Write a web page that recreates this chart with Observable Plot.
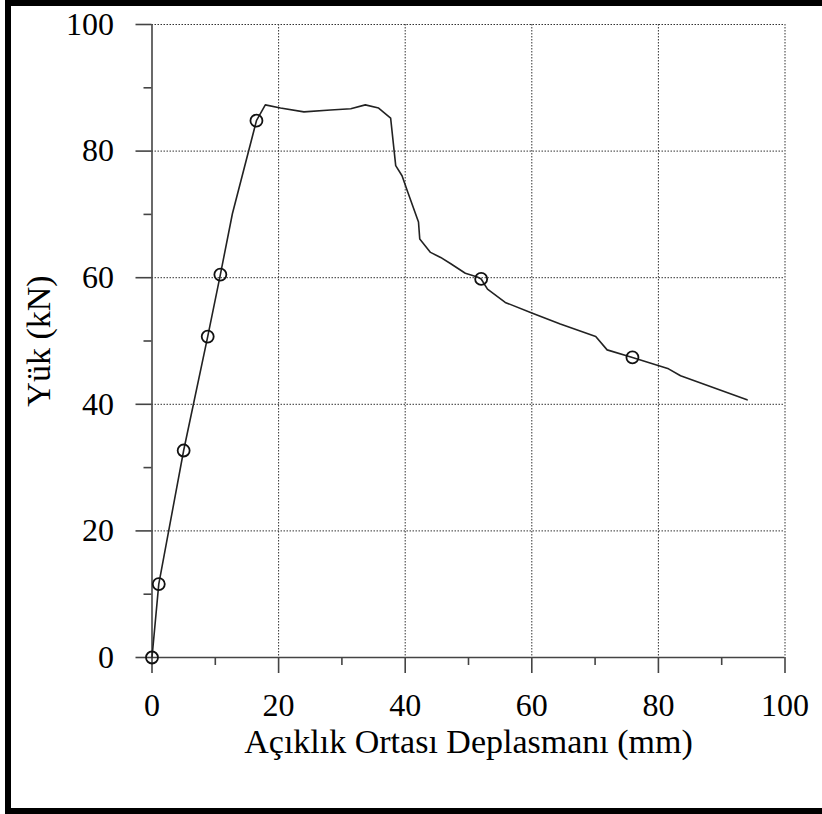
<!DOCTYPE html>
<html>
<head>
<meta charset="utf-8">
<script src="https://cdn.jsdelivr.net/npm/d3@7"></script>
<script src="https://cdn.jsdelivr.net/npm/@observablehq/plot@0.6"></script>
<style>
  html, body { margin: 0; padding: 0; background: #fff; overflow: hidden; }
  #wrap { position: relative; width: 822px; height: 814px; }
  #frame { position: absolute; left: 5px; top: 0; width: 840px; height: 814px; box-sizing: border-box; border: 6px solid #000; pointer-events: none; }
  svg { display: block; }
</style>
</head>
<body>
<div id="wrap"><div id="chart"></div><div id="frame"></div></div>
<script>
// Curve (mid-span displacement, mm) vs load (kN)
const curveX = [0, 1.07, 5.0, 8.8, 10.8, 12.7, 16.5, 17.9, 20.3, 24.0, 28.2, 31.4, 33.7, 35.8, 37.7, 38.5, 39.5, 40.3, 42.1, 42.3, 44.0, 45.6, 47.2, 49.5, 51.4, 52.0, 53.0, 55.8, 60.1, 64.5, 70.1, 71.9, 75.9, 81.6, 83.5, 94.0];
const curveY = [0, 11.6, 32.7, 50.7, 60.5, 70.1, 84.8, 87.3, 86.8, 86.2, 86.5, 86.7, 87.3, 86.8, 85.2, 77.7, 76.1, 73.8, 68.8, 66.1, 64.0, 63.2, 62.2, 60.7, 60.1, 59.8, 58.2, 56.1, 54.4, 52.7, 50.7, 48.6, 47.4, 45.6, 44.5, 40.7];
// Circle markers
const markX = [0, 1.07, 5.0, 8.8, 10.8, 16.5, 52.0, 75.9];
const markY = [0, 11.6, 32.7, 50.7, 60.5, 84.8, 59.8, 47.4];
// Ticks
const majorTicks = [0, 20, 40, 60, 80, 100];
const minorTicks = [10, 30, 50, 70, 90];
const gridTicks = [20, 40, 60, 80, 100];
const xLabel = "Açıklık Ortası Deplasmanı (mm)";
const yLabel = "Yük (kN)";

const curve = curveX.map((x, i) => ({x, y: curveY[i]}));
const marks = markX.map((x, i) => ({x, y: markY[i]}));

const font = "'Liberation Serif', 'Times New Roman', serif";
const axisColor = "#444";

const chart = Plot.plot({
  width: 822,
  height: 814,
  marginLeft: 151.5,
  marginRight: 37.5,
  marginTop: 24,
  marginBottom: 157,
  style: { fontFamily: font, fontSize: "32px", color: "#000", background: "transparent", overflow: "visible" },
  x: { domain: [0, 100] },
  y: { domain: [0, 100] },
  marks: [
    Plot.gridX(gridTicks, { stroke: "#333", strokeOpacity: 1, strokeWidth: 1, strokeDasharray: "1.5,1.5" }),
    Plot.gridY(gridTicks, { stroke: "#333", strokeOpacity: 1, strokeWidth: 1, strokeDasharray: "1.5,1.5" }),
    Plot.ruleX([0], { stroke: axisColor, strokeWidth: 1.6 }),
    Plot.ruleY([0], { stroke: axisColor, strokeWidth: 1.6 }),
    Plot.axisX(majorTicks, { tickSize: 16, tickPadding: 20, stroke: axisColor, strokeWidth: 1.6, fill: "#000", label: null, fontSize: 32 }),
    Plot.axisX(minorTicks, { tickSize: 8, text: null, stroke: axisColor, strokeWidth: 1.6, label: null }),
    Plot.axisY(majorTicks, { tickSize: 16, tickPadding: 22, stroke: axisColor, strokeWidth: 1.6, fill: "#000", label: null, fontSize: 32 }),
    Plot.axisY(minorTicks, { tickSize: 8, text: null, stroke: axisColor, strokeWidth: 1.6, label: null }),
    Plot.line(curve, { x: "x", y: "y", stroke: "#222", strokeWidth: 1.6 }),
    Plot.dot(marks, { x: "x", y: "y", r: 6, stroke: "#111", strokeWidth: 1.8, fill: "none" }),
    Plot.text([xLabel], { frameAnchor: "bottom", textAnchor: "middle", dy: 95, fontSize: 34, fill: "#000" }),
    Plot.text([yLabel], { frameAnchor: "left", textAnchor: "middle", rotate: -90, dx: -112.5, fontSize: 34, fill: "#000" })
  ]
});
document.getElementById("chart").appendChild(chart);
</script>
</body>
</html>
